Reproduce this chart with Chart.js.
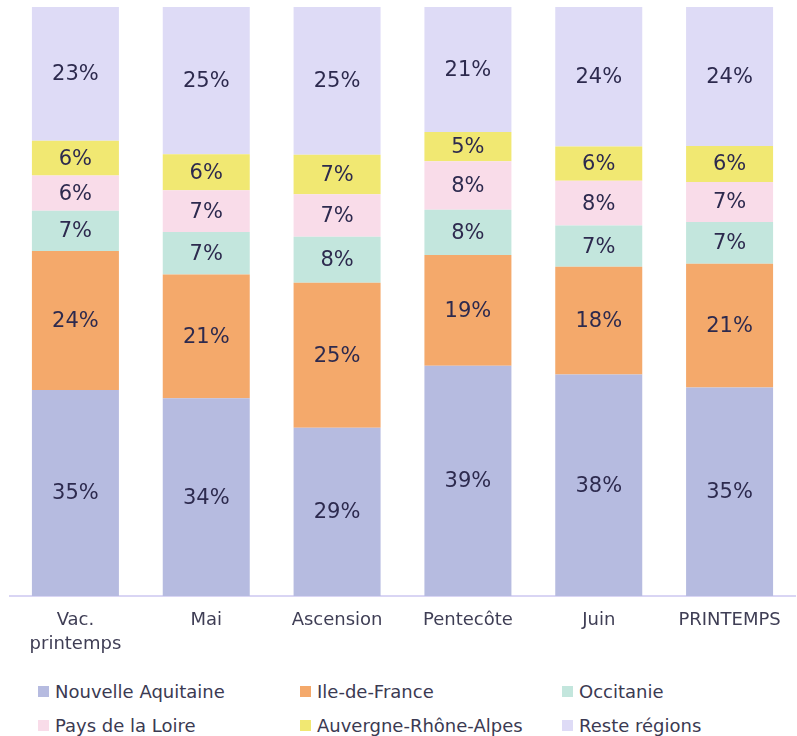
<!DOCTYPE html>
<html>
<head>
<meta charset="utf-8">
<script src="https://cdn.jsdelivr.net/npm/chart.js@4/dist/chart.umd.min.js"></script>
<style>
  html, body { margin: 0; padding: 0; background: #fff; }
  body { width: 797px; height: 736px; overflow: hidden; font-family: "DejaVu Sans", sans-serif; }
  #wrap { position: relative; width: 797px; height: 668px; }
  #legend {
    display: grid;
    grid-template-columns: 262px 262px 262px;
    padding-left: 38px;
    padding-top: 13px;
    row-gap: 13px;
    color: #3b3a52;
    font-size: 18px;
  }
  #legend .item { display: flex; align-items: center; white-space: nowrap; height: 21px; }
  #legend .box { width: 11px; height: 11px; margin-right: 6px; flex: none; }
</style>
</head>
<body>
<div id="wrap"><canvas id="chart"></canvas></div>
<div id="legend"></div>
<script>
const categories = [['Vac.', 'printemps'], 'Mai', 'Ascension', 'Pentecôte', 'Juin', 'PRINTEMPS'];

const seriesNames = ['Nouvelle Aquitaine', 'Ile-de-France', 'Occitanie', 'Pays de la Loire', 'Auvergne-Rhône-Alpes', 'Reste régions'];
const seriesColors = ['#b6bbe0', '#f4a96b', '#c3e6dd', '#f9dce9', '#f1e872', '#dedbf6'];

const nouvelleAquitaine = [35.0, 33.6, 28.6, 39.1, 37.6, 35.4];
const ileDeFrance = [23.6, 21.0, 24.6, 18.8, 18.3, 21.0];
const occitanie = [6.8, 7.2, 7.8, 7.7, 7.0, 7.1];
const paysDeLaLoire = [6.0, 7.1, 7.2, 8.2, 7.6, 6.8];
const auvergneRhoneAlpes = [5.9, 6.1, 6.7, 5.0, 5.8, 6.1];
const resteRegions = [22.7, 25.0, 25.1, 21.2, 23.7, 23.6];

const seriesValues = [nouvelleAquitaine, ileDeFrance, occitanie, paysDeLaLoire, auvergneRhoneAlpes, resteRegions];

// draws the rounded % in the middle of each segment
const segmentLabels = {
  id: 'segmentLabels',
  afterDatasetsDraw(chart) {
    const ctx = chart.ctx;
    ctx.save();
    ctx.font = '21px "DejaVu Sans", sans-serif';
    ctx.fillStyle = '#2d2a4e';
    ctx.textAlign = 'center';
    ctx.textBaseline = 'middle';
    chart.data.datasets.forEach((ds, i) => {
      const meta = chart.getDatasetMeta(i);
      meta.data.forEach((bar, j) => {
        const mid = (bar.y + bar.base) / 2;
        ctx.fillText(Math.round(ds.data[j]) + '%', bar.x, mid + 1);
      });
    });
    ctx.restore();
  }
};

const ctx = document.getElementById('chart').getContext('2d');
const chart = new Chart(ctx, {
  type: 'bar',
  data: {
    labels: categories,
    datasets: seriesNames.map((name, i) => ({
      label: name,
      data: seriesValues[i],
      backgroundColor: seriesColors[i],
      borderWidth: 0,
      categoryPercentage: 0.665,
      barPercentage: 1
    }))
  },
  options: {
    responsive: true,
    maintainAspectRatio: false,
    animation: false,
    layout: { padding: { top: 7, left: 10, right: 2, bottom: 0 } },
    scales: {
      x: {
        stacked: true,
        grid: { display: false, drawTicks: false },
        border: { display: true, color: '#d9d5f4', width: 2 },
        ticks: {
          color: '#3f3e55',
          font: { family: '"DejaVu Sans", sans-serif', size: 18, lineHeight: 1.33 },
          padding: 12,
          maxRotation: 0,
          autoSkip: false
        }
      },
      y: {
        stacked: true,
        display: false,
        min: 0,
        max: 100
      }
    },
    plugins: {
      legend: { display: false },
      tooltip: { enabled: false }
    }
  },
  plugins: [segmentLabels]
});

const legendEl = document.getElementById('legend');
chart.data.datasets.forEach(ds => {
  const item = document.createElement('div');
  item.className = 'item';
  const box = document.createElement('span');
  box.className = 'box';
  box.style.background = ds.backgroundColor;
  const txt = document.createElement('span');
  txt.textContent = ds.label;
  item.appendChild(box);
  item.appendChild(txt);
  legendEl.appendChild(item);
});
</script>
</body>
</html>
